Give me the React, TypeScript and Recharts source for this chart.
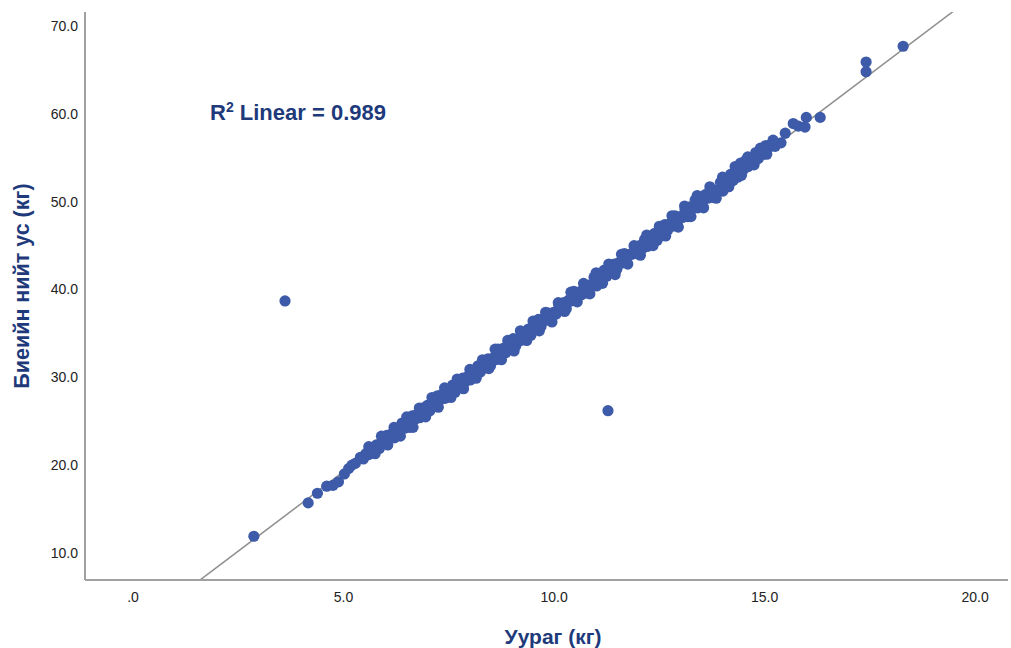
import { ScatterChart, Scatter, XAxis, YAxis, ReferenceLine } from 'recharts'

// Уураг (кг) vs Биеийн нийт ус (кг)
const lowerTail: [number, number][] = [
  [2.87, 11.9], [4.16, 15.7], [4.38, 16.8], [4.6, 17.6], [4.75, 17.7], [4.88, 18.1],
  [5.02, 19.0], [5.12, 19.6], [5.2, 20.0], [5.28, 20.2],
]

const band1: [number, number][] = [
  [5.4, 20.9], [5.47, 20.7], [5.53, 21.3], [5.6, 21.2], [5.66, 21.9], [5.72, 21.8],
  [5.78, 22.3], [5.85, 21.9], [5.91, 22.7], [5.97, 22.6], [6.03, 23.4], [6.09, 23.1],
  [6.15, 23.6], [6.21, 23.1], [6.27, 24.2], [6.33, 23.9], [6.39, 24.8], [6.45, 24.2],
  [6.51, 24.8], [6.57, 24.3], [6.63, 25.6], [6.69, 25.2], [6.75, 25.8], [6.81, 25.4],
  [6.87, 26.5], [6.93, 26.1], [6.99, 26.8], [7.05, 26.2], [7.11, 27.1], [7.17, 26.8],
  [7.23, 27.9], [7.29, 27.4], [7.35, 28.1], [7.41, 27.6], [7.47, 28.4], [7.53, 28.3],
  [7.59, 29.1], [7.65, 28.3], [7.71, 29.2], [7.77, 29.0], [7.83, 29.9], [7.89, 29.5],
  [7.95, 30.1], [8.01, 29.7], [8.07, 30.7], [8.13, 30.5], [8.19, 31.3], [8.25, 30.6],
  [8.31, 31.4], [8.37, 31.3], [8.43, 32.1], [8.49, 31.3], [8.55, 32.2], [8.61, 32.0],
]

const band2: [number, number][] = [
  [8.67, 33.2], [8.73, 32.6], [8.79, 33.3], [8.85, 32.8], [8.91, 33.6], [8.97, 33.5],
  [9.03, 34.4], [9.09, 33.6], [9.15, 34.4], [9.21, 34.2], [9.27, 35.1], [9.33, 34.7],
  [9.39, 35.5], [9.45, 34.8], [9.51, 35.8], [9.57, 35.7], [9.63, 36.6], [9.69, 35.8],
  [9.75, 36.7], [9.81, 36.5], [9.87, 37.3], [9.93, 36.6], [9.99, 37.4], [10.05, 37.2],
  [10.11, 38.3], [10.17, 37.8], [10.23, 38.5], [10.29, 37.8], [10.35, 38.8], [10.41, 38.7],
  [10.47, 39.8], [10.53, 38.9], [10.59, 39.7], [10.65, 39.4], [10.71, 40.3], [10.77, 39.6],
  [10.83, 40.5], [10.89, 40.4], [10.95, 41.4], [11.01, 40.4], [11.07, 41.5], [11.13, 41.3],
  [11.19, 42.2], [11.25, 41.5], [11.31, 42.3], [11.37, 42.0], [11.43, 42.9], [11.49, 42.3],
  [11.55, 43.1], [11.61, 43.0], [11.67, 44.1], [11.73, 43.0], [11.79, 44.0], [11.85, 44.0],
]

const band3: [number, number][] = [
  [11.91, 44.8], [11.97, 44.1], [12.03, 45.0], [12.09, 44.6], [12.15, 45.7], [12.21, 44.9],
  [12.27, 45.7], [12.33, 45.6], [12.39, 46.4], [12.45, 45.6], [12.51, 46.8], [12.57, 46.6],
  [12.63, 47.4], [12.69, 46.7], [12.75, 47.5], [12.81, 47.2], [12.87, 48.4], [12.93, 47.3],
  [12.99, 48.3], [13.05, 48.2], [13.11, 49.1], [13.17, 48.3], [13.23, 49.4], [13.29, 49.2],
  [13.35, 50.2], [13.41, 49.3], [13.47, 50.1], [13.53, 49.5], [13.59, 50.8], [13.65, 50.4],
  [13.71, 51.4], [13.77, 50.5], [13.83, 51.3], [13.89, 51.1], [13.95, 52.2], [14.01, 51.2],
  [14.07, 52.4], [14.13, 52.1], [14.19, 53.1], [14.25, 52.4], [14.31, 53.2], [14.37, 52.8],
  [14.43, 54.4], [14.49, 53.6], [14.55, 54.7], [14.61, 54.0], [14.67, 54.9], [14.73, 54.6],
  [14.79, 55.6], [14.85, 54.9], [14.91, 55.8], [14.97, 55.4], [15.03, 56.4], [15.1, 56.2],
  [15.17, 56.6], [15.25, 56.3], [15.39, 56.7],
]

// points on the outer edges of the band
const bandEdge: [number, number][] = [
  [5.6, 22.1], [5.75, 21.3], [5.9, 23.3], [6.05, 22.3], [6.2, 24.3], [6.35, 23.3],
  [6.5, 25.5], [6.65, 24.3], [6.8, 26.5], [6.95, 25.5], [7.1, 27.7], [7.25, 26.6],
  [7.4, 28.8], [7.55, 27.7], [7.7, 29.8], [7.85, 28.7], [8.0, 30.9], [8.15, 29.9],
  [8.3, 32.0], [8.45, 31.0], [8.6, 33.2], [8.75, 32.0], [8.9, 34.2], [9.05, 33.0],
  [9.2, 35.3], [9.35, 34.2], [9.5, 36.4], [9.65, 35.3], [9.8, 37.4], [9.95, 36.3],
  [10.1, 38.5], [10.25, 37.5], [10.4, 39.7], [10.55, 38.6], [10.7, 40.7], [10.85, 39.5],
  [11.0, 41.9], [11.15, 40.7], [11.3, 42.9], [11.45, 41.7], [11.6, 44.0], [11.75, 42.9],
  [11.9, 45.0], [12.05, 43.9], [12.2, 46.2], [12.35, 45.0], [12.5, 47.2], [12.65, 46.1],
  [12.8, 48.4], [12.95, 47.1], [13.1, 49.5], [13.25, 48.3], [13.4, 50.7], [13.55, 49.3],
  [13.7, 51.7], [13.85, 50.4], [14.0, 52.8], [14.15, 51.7], [14.3, 54.0], [14.45, 53.0],
  [14.6, 55.1], [14.75, 54.2], [14.9, 56.1], [15.05, 55.4], [15.2, 57.0],
]

const upperTail: [number, number][] = [
  [15.49, 57.8], [15.68, 58.9], [15.8, 58.6], [15.96, 58.5], [15.99, 59.6], [16.32, 59.6],
  [17.41, 64.8], [17.41, 65.9], [18.29, 67.7],
]

const outliers: [number, number][] = [
  [3.61, 38.7], [11.28, 26.2],
]

const xTicks = [0, 5, 10, 15, 20]
const yTicks = [10, 20, 30, 40, 50, 60, 70]

// linear fit shown on the plot
const fitIntercept = 1.16
const fitSlope = 3.62
const rSquared = '0.989'

const xDomain: [number, number] = [-1.14, 20.78]
const yDomain: [number, number] = [6.92, 71.6]

const points = [...lowerTail, ...band1, ...band2, ...band3, ...bandEdge, ...upperTail, ...outliers].map(
  ([x, y]) => ({ x, y }),
)

const fitSegment = [
  { x: 0, y: fitIntercept },
  { x: 21, y: fitIntercept + fitSlope * 21 },
]

const font = '"Liberation Sans", Arial, sans-serif'
const navy = '#1e3a7b'
const dotColor = '#3e5ba9'
const fmt = (v: number) => (v === 0 ? '.0' : v.toFixed(1))

const Dot = (props: any) => <circle cx={props.cx} cy={props.cy} r={5.6} fill={dotColor} />

export default function App() {
  return (
    <div style={{ position: 'absolute', left: 0, top: 0, width: 1011, height: 648, background: '#fff', fontFamily: font }}>
      <ScatterChart width={1011} height={648} margin={{ top: 12, right: 3, left: 0, bottom: 0 }}>
        <XAxis
          type="number"
          dataKey="x"
          domain={xDomain}
          ticks={xTicks}
          allowDataOverflow
          tickFormatter={fmt}
          height={68}
          tickLine={false}
          tickSize={0}
          tickMargin={12}
          axisLine={{ stroke: '#a0a0a0', strokeWidth: 2 }}
          tick={{ fontSize: 14, fill: '#222', fontFamily: font }}
        />
        <YAxis
          type="number"
          dataKey="y"
          domain={yDomain}
          ticks={yTicks}
          allowDataOverflow
          tickFormatter={fmt}
          width={85}
          tickLine={false}
          tickSize={0}
          tickMargin={7}
          axisLine={{ stroke: '#a0a0a0', strokeWidth: 2 }}
          tick={{ fontSize: 14, fill: '#222', fontFamily: font }}
        />
        <Scatter data={points} fill={dotColor} shape={Dot} isAnimationActive={false} />
        <ReferenceLine segment={fitSegment} stroke="#8f8f8f" strokeWidth={1.5} ifOverflow="hidden" />
      </ScatterChart>

      <div style={{ position: 'absolute', left: 210, top: 99, color: navy, fontWeight: 'bold', fontSize: 22, whiteSpace: 'nowrap' }}>
        R<sup style={{ fontSize: 14 }}>2</sup> Linear = {rSquared}
      </div>
      <div
        style={{
          position: 'absolute', left: 553, top: 637, transform: 'translate(-50%, -50%)',
          color: navy, fontWeight: 'bold', fontSize: 21, whiteSpace: 'nowrap',
        }}
      >
        Уураг (кг)
      </div>
      <div
        style={{
          position: 'absolute', left: 22, top: 286, transform: 'translate(-50%, -50%) rotate(-90deg)',
          color: navy, fontWeight: 'bold', fontSize: 21.5, whiteSpace: 'nowrap',
        }}
      >
        Биеийн нийт ус (кг)
      </div>
    </div>
  )
}
